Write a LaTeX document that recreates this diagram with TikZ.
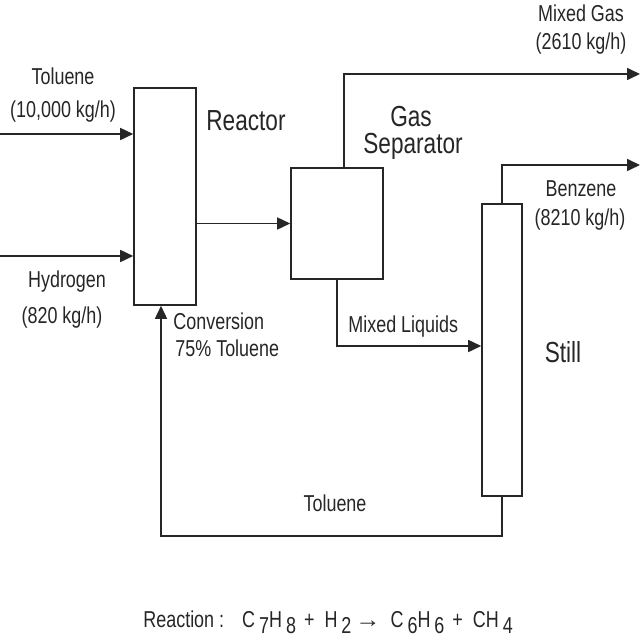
\documentclass[tikz,border=0pt]{standalone}
\usepackage{fontspec}
\setmainfont[FakeStretch=0.78]{Liberation Sans}
\usetikzlibrary{arrows.meta}
\definecolor{ink}{HTML}{262626}
\begin{document}
\begin{tikzpicture}[x=0.5pt,y=-0.5pt,
  unit/.style={draw=ink,line width=0.8pt,inner sep=0pt,fill=white},
  flow/.style={draw=ink,line width=0.8pt,-{Triangle[length=6.5pt,width=6pt]}},
  lbl/.style={text=ink,font=\fontsize{11.5}{13}\selectfont,inner sep=0pt},
  big/.style={text=ink,font=\fontsize{14.5}{16}\selectfont,inner sep=0pt}]
\useasboundingbox (0,0) rectangle (640,640);
% units
\node[unit,minimum width=31pt,minimum height=108.5pt] (reactor) at (165,196.5) {};
\node[unit,minimum width=46pt,minimum height=55.5pt] (sep) at (337,223.5) {};
\node[unit,minimum width=20pt,minimum height=146pt] (still) at (502,350) {};
% free ends
\coordinate (tin) at (0,134);
\coordinate (hin) at (0,256);
\coordinate (gasend) at (640,74);
\coordinate (benzend) at (640,165);
% connectors
\draw[flow] (tin) -- (reactor.west |- tin);
\draw[flow] (hin) -- (reactor.west |- hin);
\draw[flow] (reactor.east |- sep.west) -- (sep.west);
\draw[flow] ([xshift=3.5pt]sep.north) |- (gasend);
\draw[flow] (still.north) |- (benzend);
\draw[flow] (sep.south) |- ([yshift=2pt]still.west);
\draw[flow] (still.south) -- ++(0,39) -| ([xshift=-2pt]reactor.south);
% labels
\node[lbl] (l1) at (63,76) {Toluene};
\node[lbl] (l2) at (63,112) {(10,000 kg/h)};
\node[lbl] (l3) at (67,282) {Hydrogen};
\node[lbl] (l4) at (62,318) {(820 kg/h)};
\node[big] (l5) at (246,121) {Reactor};
\node[lbl,anchor=west] (l6) at (173,321) {Conversion};
\node[lbl,anchor=west] (l7) at (175,348) {75\% Toluene};
\node[lbl] (l8) at (581,13) {Mixed Gas};
\node[lbl] (l9) at (581,44) {(2610 kg/h)};
\node[big] (l10) at (411,117) {Gas};
\node[big] (l11) at (413,146) {Separator};
\node[lbl] (l12) at (581,189) {Benzene};
\node[lbl] (l13) at (580,220) {(8210 kg/h)};
\node[lbl,anchor=west] (l14) at (348,327) {Mixed Liquids};
\node[big] (l15) at (563,352) {Still};
\node[lbl] (l16) at (335,503) {Toluene};
\newcommand{\sbx}[1]{\hspace{2pt}\raisebox{-0.55ex}{#1}}
\node[lbl,anchor=base west] (rx) at (143,627) {Reaction :\hspace{9pt}C\sbx{7}H\sbx{8}\hspace{4pt}+\hspace{5pt}H\sbx{2}\hspace{2pt}\scalebox{1.4}[1]{→}\hspace{5pt}C\sbx{6}H\sbx{6}\hspace{4pt}+\hspace{5pt}CH\sbx{4}};
\end{tikzpicture}
\end{document}
